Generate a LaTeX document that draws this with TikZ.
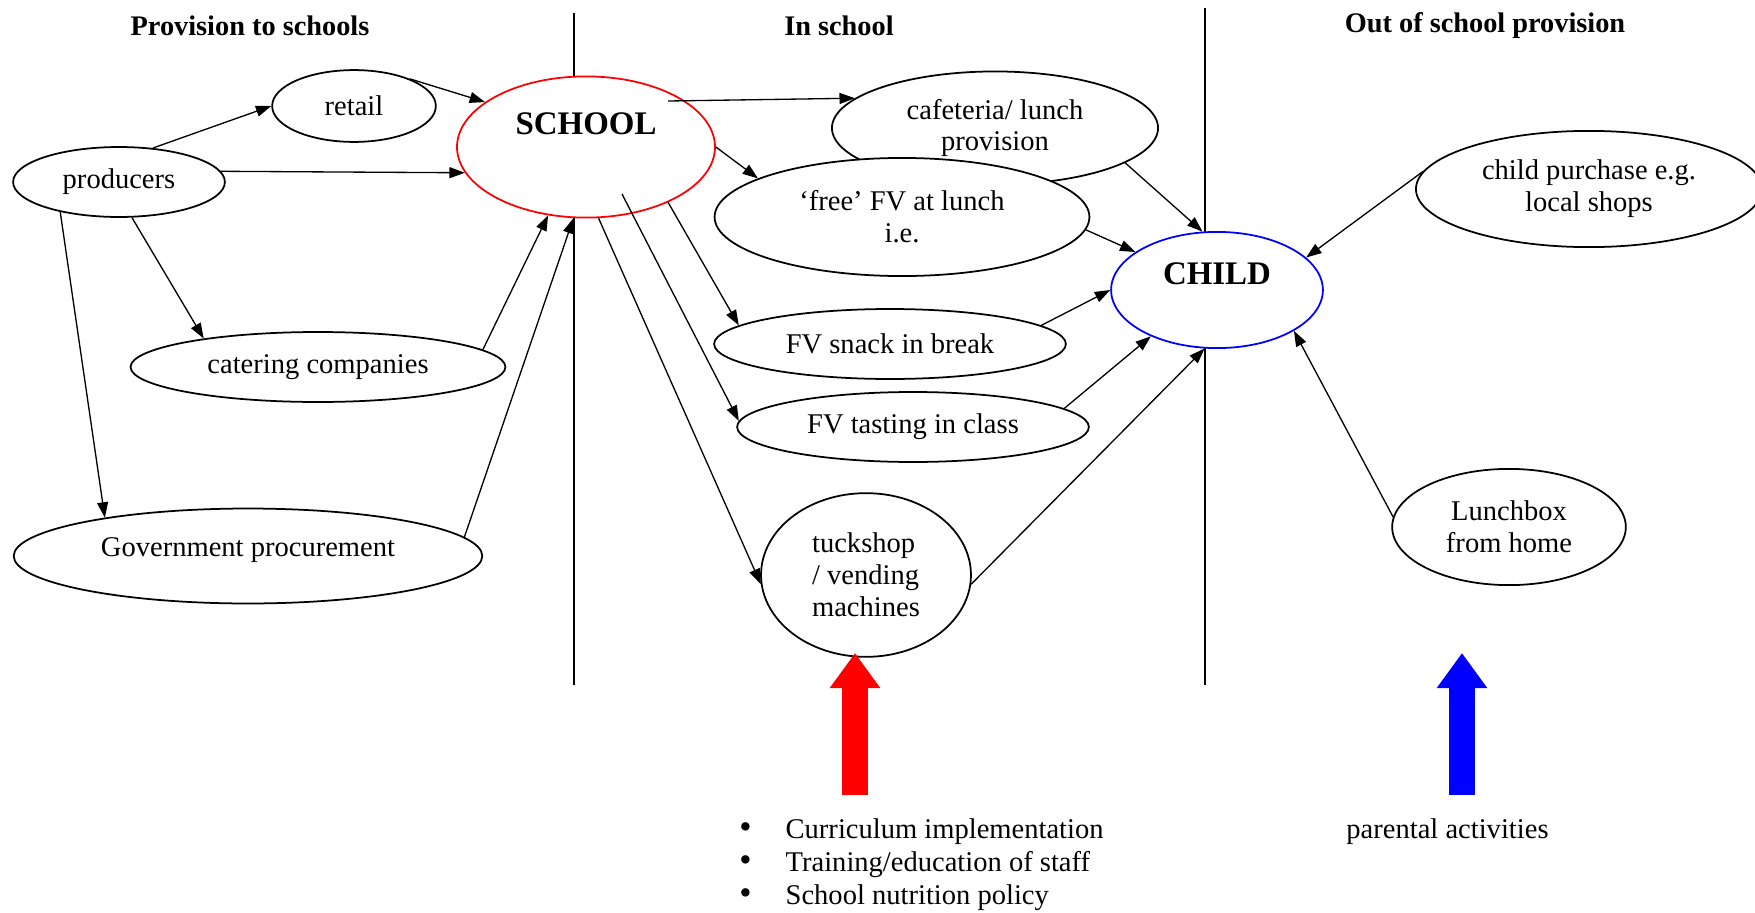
\documentclass[tikz,border=0pt]{standalone}
\usepackage{fontspec}
\setmainfont{Liberation Serif}
\usepackage{tikz}
\usetikzlibrary{shapes.geometric, arrows.meta, positioning, calc}
\definecolor{schoolred}{RGB}{255,0,0}
\definecolor{childblue}{RGB}{0,0,255}
\newcommand{\fvdot}{\makebox[0.74cm][l]{{\fontsize{16}{15}\selectfont\textbullet}}}

\begin{document}
\begin{tikzpicture}[
    x=0.016cm, y=-0.016cm,
    ell/.style={ellipse, draw, fill=white, line width=0.8pt, inner sep=0pt, align=center, font=\fontsize{13}{14.5}\selectfont},
    head/.style={font=\bfseries\fontsize{12.9}{14.5}\selectfont},
    big/.style={font=\bfseries\fontsize{15}{17}\selectfont},
    txt/.style={inner sep=0pt, align=left, font=\fontsize{13}{15}\selectfont},
    arr/.style={-{Triangle[length=7pt, width=5pt]}, line width=0.6pt},
    bigarr/.style={line width=11.5pt, -{Triangle[length=16pt, width=22pt]}}
]
\useasboundingbox (0,0) rectangle (1755,913);

\node[head] (hprov) at (250,26) {Provision to schools};
\node[head] (hin) at (839,26) {In school};
\node[head] (hout) at (1485,26) {Out of school provision};

\draw[line width=0.7pt] (574,13) -- (574,685);
\draw[line width=0.7pt] (1205,8) -- (1205,685);

\node[ell, minimum width=2.62cm, minimum height=1.15cm] (retail) at (354,106) {retail};
\node[ell, big, draw=schoolred, minimum width=4.13cm, minimum height=2.26cm, text depth=21pt] (school) at (586,147) {SCHOOL};
\node[ell, minimum width=3.39cm, minimum height=1.12cm] (prod) at (119,182) {producers};
\node[ell, minimum width=6.0cm, minimum height=1.12cm] (cater) at (318,367) {catering companies};
\node[ell, minimum width=7.5cm, minimum height=1.52cm, text depth=8pt] (gov) at (248,556) {Government procurement};

\node[ell, minimum width=5.22cm, minimum height=1.81cm] (caf) at (995,128) {cafeteria/ lunch\\provision};
\node[ell, minimum width=6.0cm, minimum height=1.89cm] (free) at (902,217) {‘free’ FV at lunch\\i.e.};
\node[ell, minimum width=5.63cm, minimum height=1.12cm] (snack) at (890,344) {FV snack in break};
\node[ell, minimum width=5.63cm, minimum height=1.12cm] (taste) at (913,427) {FV tasting in class};
\node[ell, align=left, minimum width=3.36cm, minimum height=2.62cm] (tuck) at (866,575) {tuckshop\\/ vending\\machines};

\node[ell, big, draw=childblue, minimum width=3.39cm, minimum height=1.86cm, text depth=14.5pt] (child) at (1217,290) {CHILD};
\node[ell, minimum width=5.54cm, minimum height=1.86cm] (purch) at (1589,189) {child purchase e.g.\\local shops};
\node[ell, minimum width=3.74cm, minimum height=1.86cm] (lunch) at (1509,527) {Lunchbox\\from home};

\draw[arr] (retail.26) -- (school.156);
\draw[arr] (prod.45) -- (retail.west);
\draw[arr] (prod.6) -- (school.192);
\draw[arr] (prod.290) -- (cater.166);
\draw[arr] (prod.207) -- (gov.165);
\draw[arr] (cater.6) -- (school.241);
\draw[arr] (gov.5) -- (school.260);

\draw[arr] ($(school)+(82,-46)$) -- (caf.168);
\draw[arr] (school.east) -- (free.165);
\draw[arr] (school.326) -- (snack.173);
\draw[arr] ($(school)+(36,47)$) -- (taste.178);
\draw[arr] (school.280) -- (tuck.185);

\draw[arr] (caf.345) -- (child.104);
\draw[arr] (free.356) -- (child.155);
\draw[arr] (snack.7) -- (child.west);
\draw[arr] (taste.7) -- (child.215);
\draw[arr] (tuck.355) -- (child.258);
\draw[arr] (purch.174) -- (child.20);
\draw[arr] (lunch.175) -- (child.332);

\coordinate (redbase) at (855,795);
\coordinate (redtip) at (855,653);
\draw[bigarr, schoolred] (redbase) -- (redtip);
\coordinate (bluebase) at (1462,795);
\coordinate (bluetip) at (1462,653);
\draw[bigarr, childblue] (bluebase) -- (bluetip);

\node[txt, anchor=west] (plan) at (739,865) {\fvdot Curriculum implementation\\
\fvdot Training/education of staff\\
\fvdot School nutrition policy};
\node[txt, anchor=west] (parent) at (1346,832) {parental activities};
\end{tikzpicture}
\end{document}
